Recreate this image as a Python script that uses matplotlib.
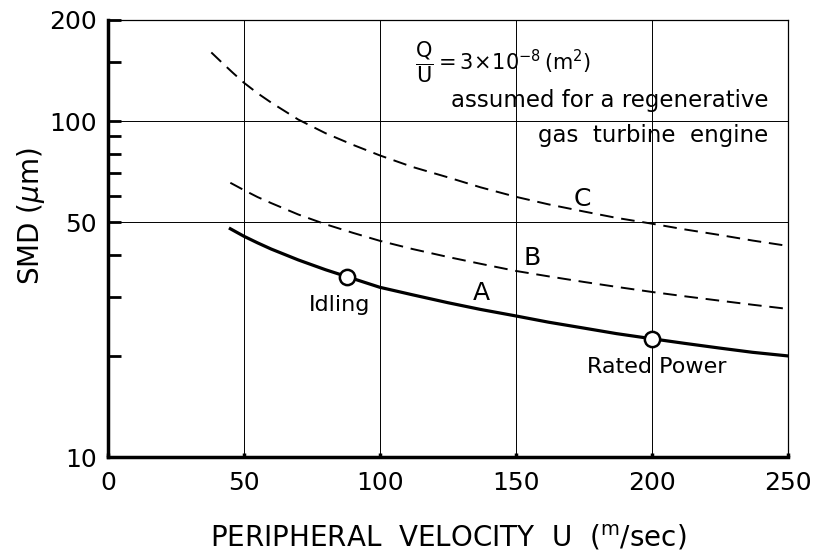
import matplotlib

matplotlib.use("Agg")

import matplotlib.pyplot as plt
from matplotlib.ticker import FixedLocator, NullFormatter

# values (U in m/sec, SMD in micrometres)
u_a = [45, 50, 55, 60, 70, 80, 88, 100, 112, 125, 137, 150, 162, 175, 187, 200, 212, 225, 237, 250]
smd_a = [47.8, 45.4, 43.4, 41.6, 38.6, 36.1, 34.4, 32.0, 30.4, 28.8, 27.5, 26.3, 25.2, 24.2,
         23.3, 22.5, 21.8, 21.1, 20.5, 20.0]

u_b = [45, 50, 55, 60, 70, 80, 90, 100, 112, 125, 137, 150, 162, 175, 187, 200, 212, 225, 237, 250]
smd_b = [65.5, 62.3, 59.4, 57.0, 52.7, 49.3, 46.5, 44.0, 41.6, 39.4, 37.6, 35.8, 34.5, 33.2,
         32.1, 31.0, 30.1, 29.2, 28.4, 27.6]

u_c = [38, 42, 46, 50, 55, 60, 70, 80, 90, 100, 112, 125, 137, 150, 162, 175, 187, 200, 212,
       225, 237, 250]
smd_c = [160, 149, 139, 130, 121, 113.5, 101, 92, 85, 79, 73, 68, 63.5, 59.5, 56.5, 53.8, 51.5,
         49.5, 47.6, 45.8, 44.1, 42.5]

points_u = [88, 200]
points_smd = [34.4, 22.5]
point_labels = ["Idling", "Rated Power"]

x_ticks = [0, 50, 100, 150, 200, 250]
y_ticks = [10, 50, 100, 200]
y_minor = [20, 30, 40, 60, 70, 80, 90, 150]

plt.rcParams["font.family"] = ["DejaVu Sans"]

fig = plt.figure(figsize=(8.18, 5.52), dpi=100)
ax = fig.add_axes([0.132, 0.172, 0.831, 0.792])

ax.plot(u_c, smd_c, color="black", lw=1.4, linestyle=(0, (7, 4)))
ax.plot(u_b, smd_b, color="black", lw=1.4, linestyle=(0, (7, 4)))
ax.plot(u_a, smd_a, color="black", lw=2.3)
ax.plot(points_u, points_smd, "o", ms=11, mfc="white", mec="black", mew=1.8, zorder=5)

ax.set_yscale("log")
ax.set_xlim(0, 250)
ax.set_ylim(10, 200)

ax.set_xticks(x_ticks)
ax.set_xticklabels([str(v) for v in x_ticks])
ax.yaxis.set_major_locator(FixedLocator(y_ticks))
ax.set_yticklabels([str(v) for v in y_ticks])
ax.yaxis.set_minor_locator(FixedLocator(y_minor))
ax.yaxis.set_minor_formatter(NullFormatter())

ax.tick_params(axis="y", which="both", direction="in", length=9, width=2.0,
               labelsize=18, pad=8)
ax.tick_params(axis="x", which="both", direction="in", length=3, width=2.5,
               labelsize=18, pad=10)
ax.tick_params(which="both", top=False, right=False)

ax.grid(True, which="major", color="black", lw=0.7)

for side in ["left", "bottom"]:
    ax.spines[side].set_linewidth(2.5)
for side in ["top", "right"]:
    ax.spines[side].set_linewidth(0.9)

ax.set_ylabel(r"SMD ($\mu$m)", fontsize=20)
ax.yaxis.set_label_coords(-0.089, 0.55)
ax.set_xlabel(r"PERIPHERAL  VELOCITY  U  ($^{\rm m}$/sec)", fontsize=20, labelpad=20)

# curve labels and operating points
ax.text(174.6, 58.6, "C", fontsize=18, ha="center", va="center")
ax.text(156, 39.2, "B", fontsize=18, ha="center", va="center")
ax.text(137.5, 30.8, "A", fontsize=18, ha="center", va="center")
ax.text(85, 28.4, point_labels[0], fontsize=16, ha="center", va="center")
ax.text(202, 18.5, point_labels[1], fontsize=16, ha="center", va="center")

ax.text(113, 150, r"$\dfrac{\mathrm{Q}}{\mathrm{U}}=3\!\times\!10^{-8}\,(\mathrm{m}^2)$",
        fontsize=15, ha="left", va="center")
ax.text(243, 115, "assumed for a regenerative", fontsize=16.5, ha="right", va="center")
ax.text(243, 90.5, "gas  turbine  engine", fontsize=16.5, ha="right", va="center")

fig.savefig("out.png", dpi=100)
